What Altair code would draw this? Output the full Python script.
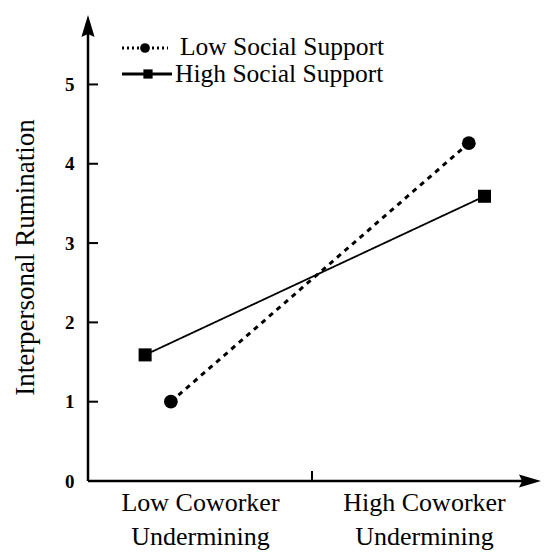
import json
import altair as alt
import pandas as pd

# ---- data ----
conditions = ["Low Coworker Undermining", "High Coworker Undermining"]
series = ["Low Social Support", "High Social Support"]
x_low_support = [0.37, 1.70]
x_high_support = [0.255, 1.77]
val_low_support = [1.0, 4.26]
val_high_support = [1.59, 3.59]
y_tick_values = [0, 1, 2, 3, 4, 5]
x_label_values = [0.5, 1.5]
x_tick_values = [1.0]
y_title = "Interpersonal Rumination"

rows = []
for s, xs_, vs_ in [(series[0], x_low_support, val_low_support),
                    (series[1], x_high_support, val_high_support)]:
    for c, xv, yv in zip(conditions, xs_, vs_):
        rows.append({"condition": c, "series": s, "x": xv, "y": yv})
df = pd.DataFrame(rows)

FONT = "Liberation Serif"
W, H = 452, 460
xscale = alt.Scale(domain=[0, 452 / 224], nice=False, zero=False)
yscale = alt.Scale(domain=[0, 5.8], nice=False, zero=False)

def split2(c):
    words = c.split(" ")
    return [" ".join(words[:2]), " ".join(words[2:])]

label_expr = "datum.value < 1 ? %s : %s" % (json.dumps(split2(conditions[0])),
                                             json.dumps(split2(conditions[1])))

x_axis = alt.Axis(values=x_label_values, labelExpr=label_expr, domain=False,
                  ticks=False, tickSize=0, grid=False, title=None,
                  labelFont=FONT, labelFontSize=26, labelColor="black",
                  labelLineHeight=34.5, labelPadding=8, labelFlush=False,
                  labelOverlap=False, labelBaseline="top")
y_axis = alt.Axis(values=y_tick_values, domain=False, ticks=False, tickSize=0,
                  grid=False, title=y_title, labelFont=FONT, labelFontSize=19,
                  labelFontWeight="bold", labelColor="black", labelPadding=14,
                  titleFont=FONT, titleFontSize=27, titleFontWeight="normal",
                  titleColor="black", titleX=-55, titleY=236,
                  titleBaseline="alphabetic", titleAngle=270)

base = alt.Chart(df)

dash_scale = alt.Scale(domain=series, range=[[5, 5], [1, 0]])
width_scale = alt.Scale(domain=series, range=[3, 1.8])

lines = base.mark_line(color="black").encode(
    x=alt.X("x:Q", scale=xscale, axis=x_axis),
    y=alt.Y("y:Q", scale=yscale, axis=y_axis),
    detail="series:N",
    strokeDash=alt.StrokeDash("series:N", scale=dash_scale, legend=None),
    strokeWidth=alt.StrokeWidth("series:N", scale=width_scale, legend=None),
)

points = base.mark_point(filled=True, color="black", opacity=1).encode(
    x=alt.X("x:Q", scale=xscale, axis=x_axis),
    y=alt.Y("y:Q", scale=yscale, axis=y_axis),
    shape=alt.Shape("series:N", scale=alt.Scale(domain=series, range=["circle", "square"]), legend=None),
    size=alt.Size("series:N", scale=alt.Scale(domain=series, range=[190, 170]), legend=None),
)

# ---- hand-drawn axes with arrow heads and inward ticks ----
arrow = "M0,-1L0.6,1L0,0.72L-0.6,1Z"
one = pd.DataFrame({"k": [0]})
yaxis_line = alt.Chart(one).mark_rule(color="black", strokeWidth=2.5).encode(
    x=alt.value(0), y=alt.value(H), y2=alt.value(12))
xaxis_line = alt.Chart(one).mark_rule(color="black", strokeWidth=2.5).encode(
    x=alt.value(0), x2=alt.value(442), y=alt.value(H))
yarrow = alt.Chart(one).mark_point(shape=arrow, filled=True, color="black",
                                   opacity=1, size=484, strokeWidth=0).encode(
    x=alt.value(0), y=alt.value(5))
xarrow = alt.Chart(one).mark_point(shape=arrow, filled=True, color="black",
                                   opacity=1, size=484, strokeWidth=0, angle=90).encode(
    x=alt.value(442), y=alt.value(H))
yticks = alt.Chart(pd.DataFrame({"v": y_tick_values[1:]})).mark_rule(
    color="black", strokeWidth=2).encode(
    x=alt.value(0), x2=alt.value(10), y=alt.Y("v:Q", scale=yscale, axis=y_axis))
xticks = alt.Chart(pd.DataFrame({"v": x_tick_values})).mark_rule(
    color="black", strokeWidth=2).encode(
    x=alt.X("v:Q", scale=xscale, axis=x_axis), y=alt.value(H), y2=alt.value(H - 10))

# ---- manual legend ----
leg_layers = []
leg_rows = [
    # (series, line x0, line x1, marker x, marker y, text x, text baseline y, dash, shape, size)
    (series[0], 34, 80, 57, 27, 92, 34, [2, 3], "circle", 95),
    (series[1], 34, 84, 60, 53, 87, 61, [1, 0], "square", 85),
]
for name, lx0, lx1, mx, my, tx, ty, dash, shp, sz in leg_rows:
    d = pd.DataFrame({"series": [name]})
    leg_layers.append(alt.Chart(d).mark_rule(color="black", strokeWidth=3, strokeDash=dash).encode(
        x=alt.value(lx0), x2=alt.value(lx1), y=alt.value(my)))
    leg_layers.append(alt.Chart(d).mark_point(shape=shp, filled=True, color="black",
                                              opacity=1, size=sz).encode(
        x=alt.value(mx), y=alt.value(my)))
    leg_layers.append(alt.Chart(d).mark_text(font=FONT, fontSize=25.5, align="left",
                                             baseline="alphabetic", color="black").encode(
        x=alt.value(tx), y=alt.value(ty), text="series:N"))

chart = alt.layer(
    lines, points, yticks, xticks, yaxis_line, xaxis_line, yarrow, xarrow, *leg_layers
).properties(
    width=W, height=H, background="white",
    autosize=alt.AutoSizeParams(type="none"),
    padding={"left": 80, "top": 13, "right": 2, "bottom": 69},
).configure_view(stroke=None)

chart.save("out.html", embed_options={"renderer": "svg", "actions": False})
